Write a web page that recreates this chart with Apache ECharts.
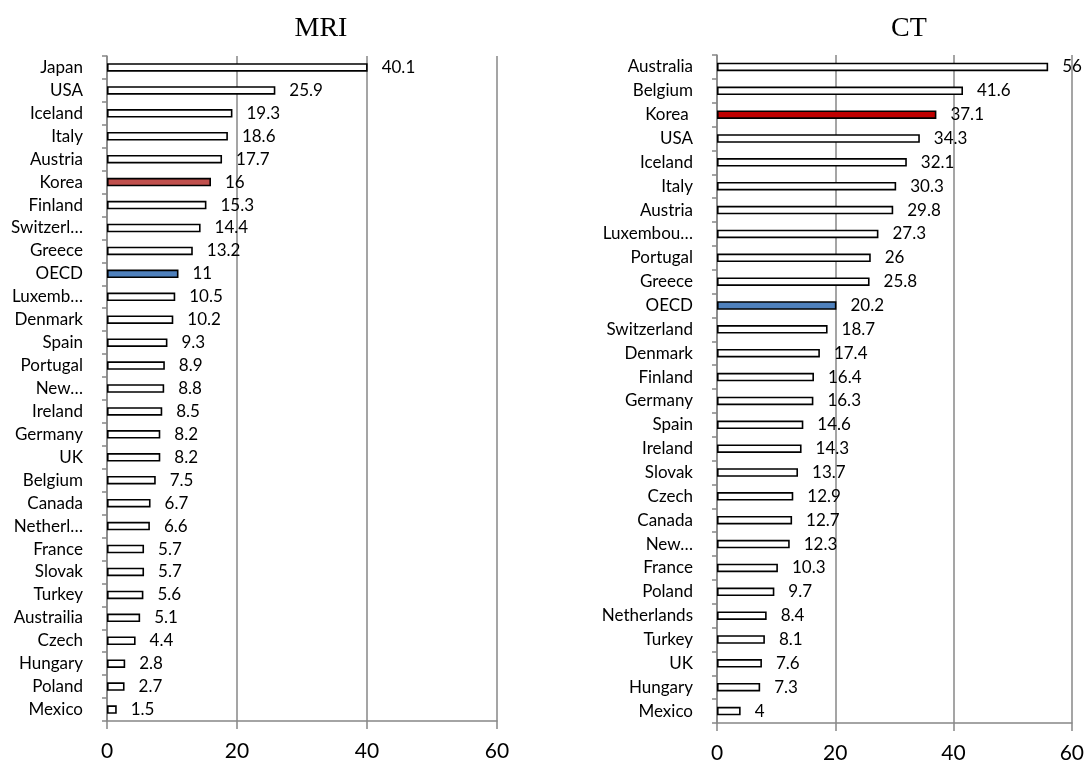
<!DOCTYPE html>
<html>
<head>
<meta charset="utf-8">
<script src="https://cdn.jsdelivr.net/npm/echarts@6/dist/echarts.min.js"></script>
<style>
html,body{margin:0;padding:0;background:#fff;}
#chart{width:1087px;height:768px;}
</style>
</head>
<body>
<div id="chart"></div>
<script>
// MRI data (top to bottom)
const mriCategories = ["Japan","USA","Iceland","Italy","Austria","Korea","Finland","Switzerl\u2026","Greece","OECD","Luxemb\u2026","Denmark","Spain","Portugal","New\u2026","Ireland","Germany","UK","Belgium","Canada","Netherl\u2026","France","Slovak","Turkey","Austrailia","Czech","Hungary","Poland","Mexico"];
const mriValues = [40.1,25.9,19.3,18.6,17.7,16,15.3,14.4,13.2,11,10.5,10.2,9.3,8.9,8.8,8.5,8.2,8.2,7.5,6.7,6.6,5.7,5.7,5.6,5.1,4.4,2.8,2.7,1.5];
// CT data (top to bottom)
const ctCategories = ["Australia","Belgium","Korea ","USA","Iceland","Italy","Austria","Luxembou\u2026","Portugal","Greece","OECD","Switzerland","Denmark","Finland","Germany","Spain","Ireland","Slovak","Czech","Canada","New\u2026","France","Poland","Netherlands","Turkey","UK","Hungary","Mexico"];
const ctValues = [56,41.6,37.1,34.3,32.1,30.3,29.8,27.3,26,25.8,20.2,18.7,17.4,16.4,16.3,14.6,14.3,13.7,12.9,12.7,12.3,10.3,9.7,8.4,8.1,7.6,7.3,4];
const xTicks = [0,20,40,60];

const GREY = '#878787';
const FONT = 'Lato';

function colorFor(name, koreaColor){
  const n = name.trim();
  if (n === 'Korea') return koreaColor;
  if (n === 'OECD') return '#4F81BD';
  return '#ffffff';
}

function xAxis(gi){
  return {
    type:'value', gridIndex:gi, min:xTicks[0], max:xTicks[xTicks.length-1], interval:20,
    axisLine:{show:true, lineStyle:{color:GREY, width:1.5}},
    axisTick:{show:true, length:8, lineStyle:{color:GREY, width:1.5}},
    axisLabel:{fontFamily:FONT, fontSize:21, color:'#000', margin:20},
    splitLine:{show:true, lineStyle:{color:GREY, width:1.5}}
  };
}
function yAxis(gi, cats){
  return {
    type:'category', gridIndex:gi, data:cats, inverse:true,
    axisLine:{show:true, lineStyle:{color:GREY, width:1.5}},
    axisTick:{show:true, length:5, interval:0, lineStyle:{color:GREY, width:1.5}},
    axisLabel:{fontFamily:FONT, fontSize:17, color:'#000', margin:24, interval:0}
  };
}
function series(gi, cats, vals, koreaColor){
  return {
    type:'bar', xAxisIndex:gi, yAxisIndex:gi,
    data: vals.map((v,i)=>({value:v, itemStyle:{color:colorFor(cats[i], koreaColor)}})),
    barWidth:8.5,
    itemStyle:{borderColor:'#000', borderWidth:1.6},
    label:{show:true, position:'right', distance:14, fontFamily:FONT, fontSize:17, color:'#000'},
    silent:true, animation:false
  };
}

const chart = echarts.init(document.getElementById('chart'), null, {renderer:'canvas'});
chart.setOption({
  animation:false,
  backgroundColor:'#fff',
  title:[
    {text:'MRI', left:316, top:10, textAlign:'center', textStyle:{fontFamily:'Liberation Serif', fontSize:28, fontWeight:'normal', color:'#000'}},
    {text:'CT', left:904, top:10, textAlign:'center', textStyle:{fontFamily:'Liberation Serif', fontSize:28, fontWeight:'normal', color:'#000'}}
  ],
  grid:[
    {left:107, right:590, top:56, bottom:47},
    {left:717, right:14, top:55, bottom:45}
  ],
  xAxis:[xAxis(0), xAxis(1)],
  yAxis:[yAxis(0, mriCategories), yAxis(1, ctCategories)],
  series:[
    series(0, mriCategories, mriValues, '#C0504D'),
    series(1, ctCategories, ctValues, '#C00000')
  ]
});
</script>
</body>
</html>
